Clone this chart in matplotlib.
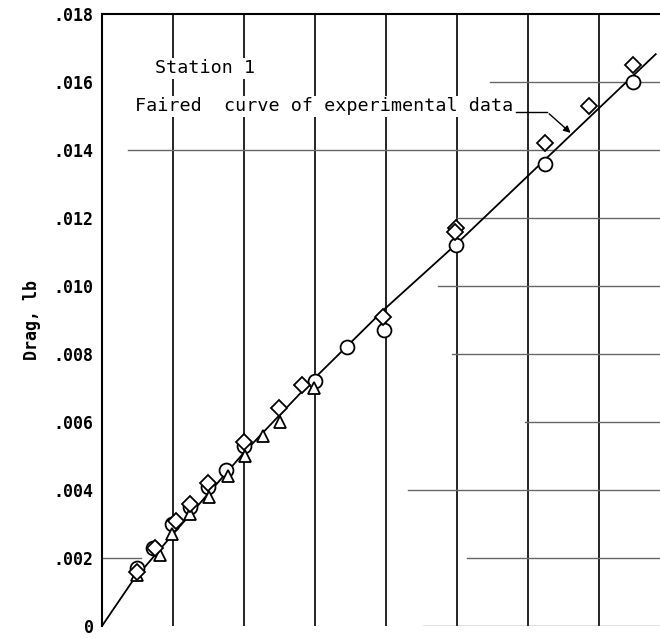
"""
Drag at station 1 with the faired curve of experimental data
"""

#---------------------------------------------------------------------------------------------------
# Import Modules
#---------------------------------------------------------------------------------------------------

import numpy as np
import matplotlib
matplotlib.use('Agg')
import matplotlib.pyplot as plt


#---------------------------------------------------------------------------------------------------
# Data (the x axis carries no labels)
#---------------------------------------------------------------------------------------------------

circle_x = [0.49, 0.72, 0.99, 1.24, 1.49, 1.75, 2.00, 3.00, 3.45, 3.97, 4.99, 6.24, 7.48]
circle_y = [0.0017, 0.0023, 0.0030, 0.0035, 0.0041, 0.0046, 0.0053, 0.0072, 0.0082, 0.0087,
            0.0112, 0.0136, 0.0160]

diamond_x = [0.49, 0.75, 1.04, 1.24, 1.49, 2.00, 2.50, 2.82, 3.96, 4.99, 4.97, 6.24, 6.86, 7.48]
diamond_y = [0.0016, 0.0023, 0.0031, 0.0036, 0.0042, 0.0054, 0.0064, 0.0071, 0.0091, 0.0117,
             0.0116, 0.0142, 0.0153, 0.0165]

triangle_x = [0.50, 0.82, 0.99, 1.24, 1.51, 1.77, 2.02, 2.27, 2.51, 2.99]
triangle_y = [0.0015, 0.0021, 0.0027, 0.0033, 0.0038, 0.0044, 0.0050, 0.0056, 0.0060, 0.0070]

# Faired curve of experimental data
curve_x = [0.0, 0.42, 1.0, 2.0, 3.0, 4.0, 5.0, 6.0, 7.0, 7.8]
curve_y = [0.0, 0.00129, 0.0027, 0.0051, 0.0073, 0.00936, 0.01125, 0.01324, 0.01523, 0.01682]

yticks = [0, 0.002, 0.004, 0.006, 0.008, 0.010, 0.012, 0.014, 0.016, 0.018]
ytick_labels = ['0', '.002', '.004', '.006', '.008', '.010', '.012', '.014', '.016', '.018']

# Partial horizontal grid lines of the chart paper: (level, start, end)
hgrid = [(0.0, 4.52, 7.9), (0.002, 0.0, 0.55), (0.002, 5.14, 7.9), (0.004, 4.31, 7.9),
         (0.006, 5.96, 7.9), (0.008, 4.93, 7.9), (0.010, 4.73, 7.9), (0.012, 5.0, 7.9),
         (0.014, 0.37, 7.9), (0.016, 5.46, 7.9)]


#---------------------------------------------------------------------------------------------------
# Figure
#---------------------------------------------------------------------------------------------------

mono = 'DejaVu Sans Mono'

fig = plt.figure(figsize=(6.6, 6.38), dpi=100)
ax = fig.add_axes([0.1545, 0.0188, 0.8455, 0.9592])

ax.set_xlim(0, 7.86)
ax.set_ylim(0, 0.018)

# Chart paper grid
for gx in range(1, 8):
    ax.axvline(gx, color='black', lw=1.2, zorder=1)
for level, x0, x1 in hgrid:
    ax.plot([x0, x1], [level, level], color='0.4', lw=1.0, zorder=1)

# Faired curve and the test points
ax.plot(curve_x, curve_y, color='black', lw=1.3, zorder=2)

ax.plot(circle_x, circle_y, 'o', ms=10, mfc='white', mec='black', mew=1.3, zorder=3)
ax.plot(diamond_x, diamond_y, 'D', ms=8, mfc='white', mec='black', mew=1.3, zorder=4)
ax.plot(triangle_x, triangle_y, '^', ms=9, mfc='white', mec='black', mew=1.3, zorder=3)

# Labels on the chart
box = dict(facecolor='white', edgecolor='none', pad=1)
ax.text(0.75, 0.01641, 'Station 1', family=mono, fontsize=13.2, va='center', ha='left',
        bbox=box, zorder=5)
ax.text(0.46, 0.01529, 'Faired  curve of experimental data', family=mono, fontsize=13.2,
        va='center', ha='left', bbox=box, zorder=5)
ax.plot([5.83, 6.27], [0.01512, 0.01512], color='black', lw=1.0, zorder=5)
ax.annotate('', xy=(6.63, 0.01445), xytext=(6.27, 0.01512),
            arrowprops=dict(arrowstyle='-|>', color='black', lw=1.0, mutation_scale=10),
            zorder=5)

# Axes
ax.set_xticks([])
ax.set_yticks(yticks)
ax.set_yticklabels(ytick_labels, family=mono, fontsize=12, fontweight='bold')
ax.tick_params(axis='y', length=0, pad=6)
ax.set_ylabel('Drag, lb', family=mono, fontsize=12, fontweight='bold', labelpad=9)

ax.spines['right'].set_visible(False)
ax.spines['bottom'].set_visible(False)
ax.spines['left'].set_linewidth(1.5)
ax.spines['top'].set_linewidth(1.5)

plt.savefig('out.png', dpi=100)
